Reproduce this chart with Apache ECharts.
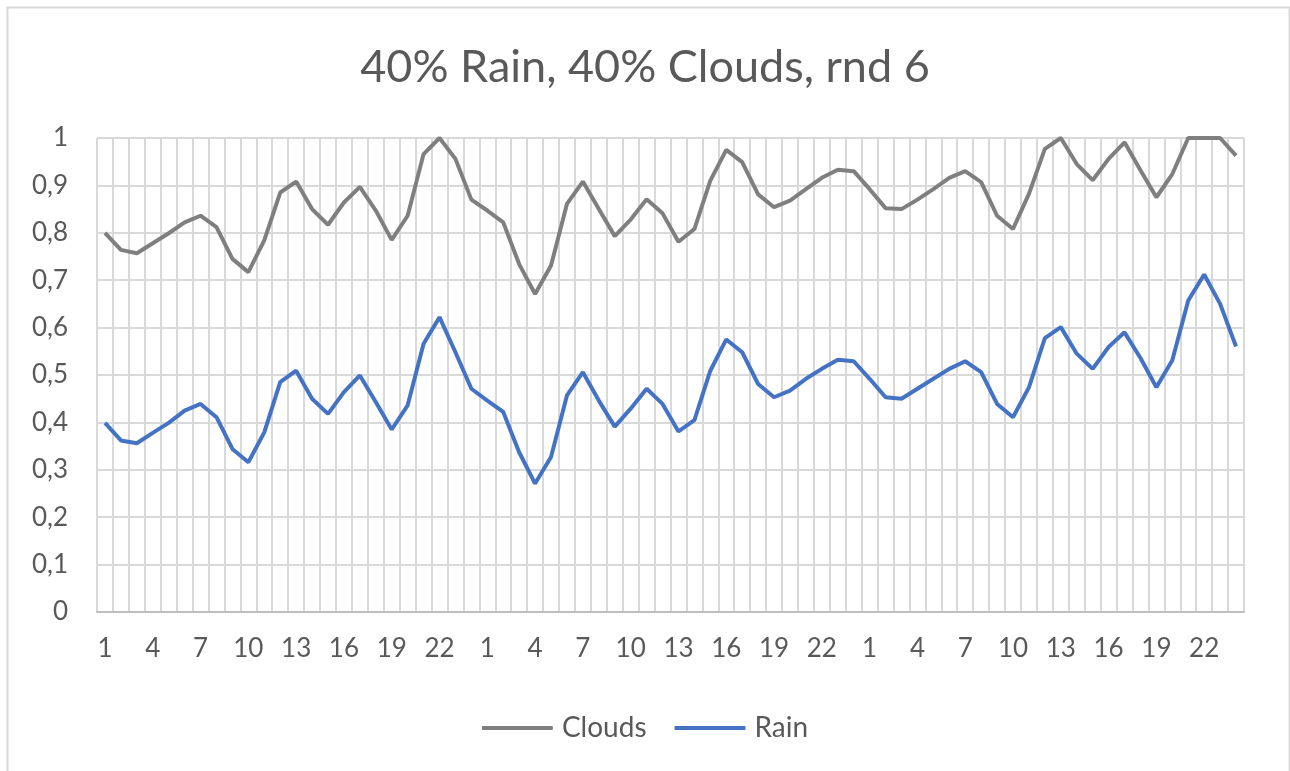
<!DOCTYPE html>
<html>
<head>
<meta charset="utf-8">
<script src="https://cdn.jsdelivr.net/npm/echarts@6/dist/echarts.min.js"></script>
<style>
  html, body { margin:0; padding:0; background:#fff; }
  #chart     { width:1290px; height:771px; }
</style>
</head>
<body>
<div id="chart"></div>
<script>
// hours of three days, 1..24 each
const hours = []
for (let d = 0; d < 3; d++) for (let h = 1; h <= 24; h++) hours.push(String(h))

const clouds = [
  0.800, 0.764, 0.757, 0.778, 0.799, 0.822, 0.836, 0.812, 0.745, 0.717, 0.784, 0.885,
  0.908, 0.850, 0.817, 0.864, 0.897, 0.847, 0.785, 0.836, 0.966, 1.000, 0.956, 0.870,
  0.847, 0.822, 0.734, 0.671, 0.731, 0.861, 0.908, 0.850, 0.793, 0.828, 0.871, 0.841,
  0.781, 0.808, 0.910, 0.975, 0.949, 0.881, 0.854, 0.868, 0.892, 0.916, 0.933, 0.930,
  0.892, 0.852, 0.850, 0.870, 0.892, 0.916, 0.930, 0.907, 0.836, 0.808, 0.882, 0.977,
  1.000, 0.945, 0.911, 0.956, 0.991, 0.932, 0.875, 0.924, 1.000, 1.000, 1.000, 0.963
]

const rain = [
  0.399, 0.362, 0.356, 0.378, 0.399, 0.425, 0.439, 0.411, 0.344, 0.316, 0.379, 0.485,
  0.509, 0.450, 0.418, 0.464, 0.499, 0.443, 0.385, 0.436, 0.566, 0.622, 0.548, 0.471,
  0.446, 0.422, 0.337, 0.271, 0.327, 0.457, 0.506, 0.446, 0.391, 0.429, 0.471, 0.439,
  0.381, 0.405, 0.509, 0.575, 0.548, 0.481, 0.453, 0.467, 0.492, 0.513, 0.532, 0.529,
  0.492, 0.453, 0.450, 0.471, 0.492, 0.513, 0.529, 0.506, 0.439, 0.411, 0.474, 0.578,
  0.601, 0.545, 0.513, 0.559, 0.590, 0.536, 0.474, 0.531, 0.657, 0.712, 0.650, 0.560
]

const FONT = 'Lato, "Open Sans", sans-serif'
const TXT  = '#595959'
const GRID = '#d9d9d9'

const chart = echarts.init(document.getElementById('chart'))
chart.setOption({
  animation: false,
  graphic: [{
    type: 'rect', left: 5, top: 5, silent: true,
    shape: { width: 1282, height: 790 },
    style: { fill: 'none', stroke: GRID, lineWidth: 2 }
  }],
  title: {
    text: '40% Rain, 40% Clouds, rnd 6',
    left: 'center', top: 40,
    textStyle: { fontFamily: FONT, fontSize: 45, fontWeight: 'normal', color: TXT }
  },
  legend: {
    bottom: 24, left: 'center',
    itemWidth: 71, itemHeight: 4, itemGap: 28,
    icon: 'roundRect',
    textStyle: { fontFamily: FONT, fontSize: 28, color: TXT, padding: [0, 0, 0, 4] },
    data: ['Clouds', 'Rain']
  },
  grid: { left: 97, right: 46, top: 138, bottom: 159, containLabel: false },
  xAxis: {
    type: 'category',
    data: hours,
    boundaryGap: true,
    axisLine: { lineStyle: { color: '#bfbfbf', width: 2 } },
    axisTick: { show: false, interval: 0 },
    axisLabel: { interval: 2, margin: 24, fontFamily: FONT, fontSize: 26, color: TXT },
    splitLine: { show: true, interval: 0, lineStyle: { color: GRID, width: 2 } }
  },
  yAxis: {
    type: 'value',
    min: 0, max: 1, interval: 0.1,
    axisLine: { show: false },
    axisTick: { show: false },
    axisLabel: {
      margin: 29, fontFamily: FONT, fontSize: 26, color: TXT,
      formatter: v => String(Math.round(v * 10) / 10).replace('.', ',')
    },
    splitLine: { lineStyle: { color: GRID, width: 2 } }
  },
  series: [
    { name: 'Clouds', type: 'line', data: clouds, showSymbol: false,
      lineStyle: { color: '#7f7f7f', width: 4 }, itemStyle: { color: '#7f7f7f' } },
    { name: 'Rain', type: 'line', data: rain, showSymbol: false,
      lineStyle: { color: '#4472c4', width: 4 }, itemStyle: { color: '#4472c4' } }
  ]
})
</script>
</body>
</html>
